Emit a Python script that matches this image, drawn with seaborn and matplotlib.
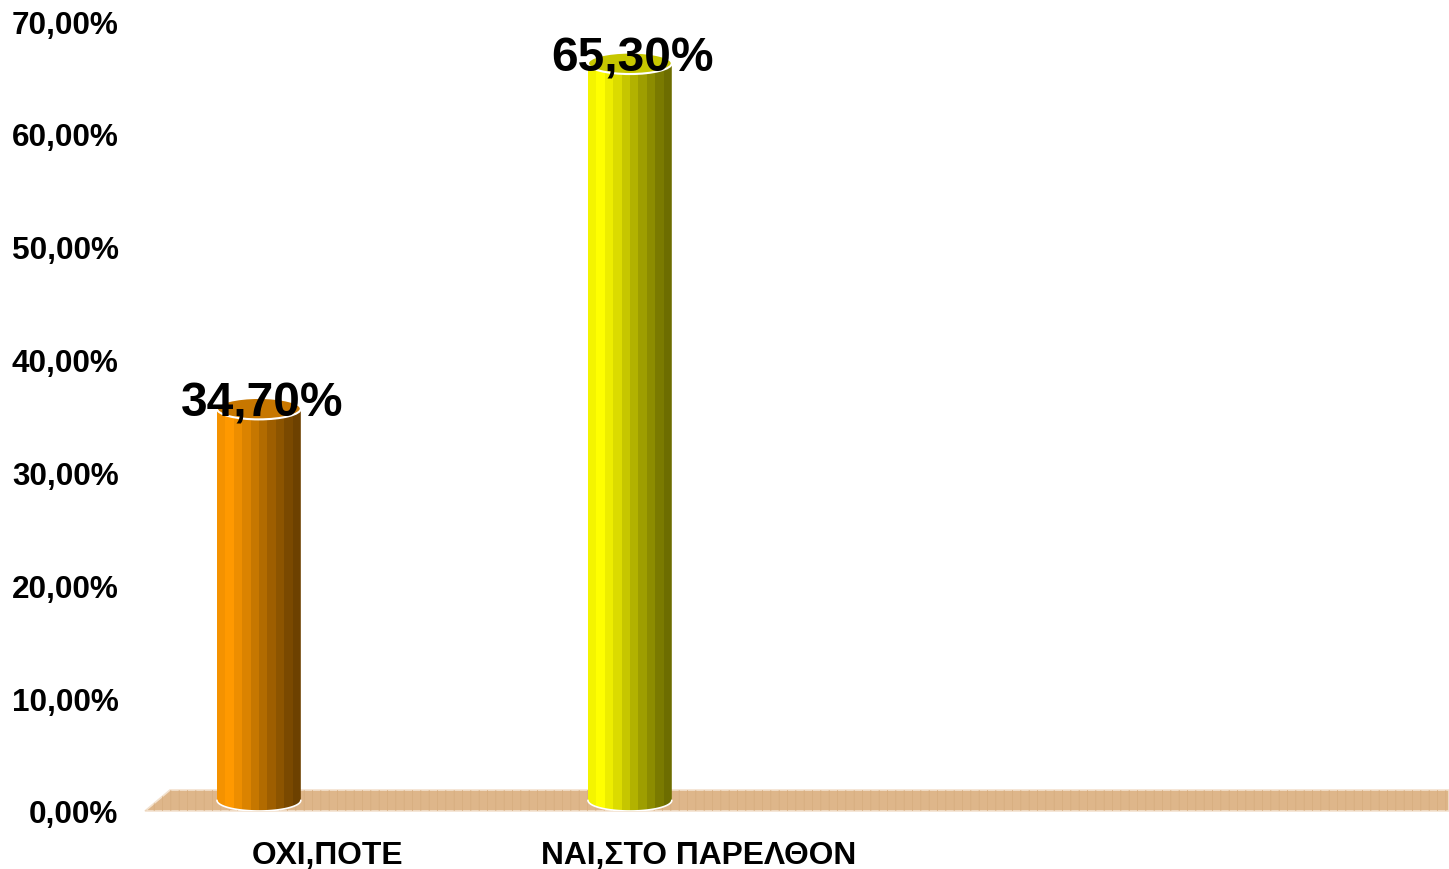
import numpy as np
import matplotlib
matplotlib.use("Agg")
import matplotlib.pyplot as plt
import matplotlib.colors as mcolors
import seaborn as sns
from matplotlib.patches import Ellipse, Polygon
from matplotlib.ticker import FuncFormatter

categories = ["ΟΧΙ,ΠΟΤΕ", "ΝΑΙ,ΣΤΟ ΠΑΡΕΛΘΟΝ"]
values = [34.70, 65.30]
value_labels = ["34,70%", "65,30%"]
bar_colors = ["#FF9900", "#FFFF00"]
y_ticks = [0, 10, 20, 30, 40, 50, 60, 70]

sns.set_theme(style="white")
plt.rcParams["font.family"] = ["Liberation Sans", "DejaVu Sans"]
plt.rcParams["hatch.linewidth"] = 0.5

fig = plt.figure(figsize=(14.49, 8.70), dpi=100)
ax = fig.add_axes([145 / 1449, 58 / 870, 1304 / 1449, 790 / 870])

sns.barplot(x=categories, y=values, hue=categories, palette=bar_colors,
            legend=False, width=0.226, saturation=1, ax=ax)

# 3d look: lift the cylinders a bit, shade them in facets
lift = 0.95
facets = np.array([0.96, 1.0, 0.93, 0.86, 0.78, 0.70, 0.62, 0.55, 0.48, 0.43])
bars = list(ax.patches)
for p, c, lab in zip(bars, bar_colors, value_labels):
    x0, w, h = p.get_x(), p.get_width(), p.get_height()
    p.set_visible(False)
    cx = x0 + w / 2
    base = np.array(mcolors.to_rgb(c))
    img = (base[None, :] * facets[:, None])[None, :, :]

    t = np.linspace(0, np.pi, 80)
    arc = np.column_stack([cx + w / 2 * np.cos(t), lift - lift * np.sin(t)])
    outline = np.vstack([[cx - w / 2, h + lift], [cx + w / 2, h + lift], arc])
    clip = Polygon(outline, closed=True, facecolor="none", edgecolor="none",
                   transform=ax.transData)
    ax.add_patch(clip)
    im = ax.imshow(img, extent=[cx - w / 2, cx + w / 2, 0, h + lift],
                   aspect="auto", interpolation="nearest", zorder=3)
    im.set_clip_path(clip)
    ax.plot(arc[:, 0], arc[:, 1], color="white", lw=1.2, zorder=4)
    ax.add_patch(Ellipse((cx, h + lift), w, 2 * lift, facecolor=base * 0.78,
                         edgecolor="white", lw=1.5, zorder=5))
    ax.text(cx + 0.008, h + 0.3, lab, ha="center", va="baseline", fontsize=34.5,
            fontweight="bold", color="black", zorder=6)

x_lo, x_hi = -0.307, 3.208
ax.set_xlim(x_lo, x_hi)
ax.set_ylim(0, 70)

# floor
floor = [(x_lo, 0), (x_hi, 0), (x_hi, 2 * lift), (x_lo + 25 / 371, 2 * lift)]
ax.add_patch(Polygon(floor, closed=True, facecolor="#DEB68A", edgecolor="#F3E2CF",
                     lw=1.2, zorder=1, clip_on=False))
ax.add_patch(Polygon(floor, closed=True, facecolor="none", edgecolor="#D6AC7E",
                     hatch="||", lw=0, zorder=1.5, clip_on=False))

ax.set_yticks(y_ticks)
ax.yaxis.set_major_formatter(FuncFormatter(lambda v, pos: f"{v:.2f}%".replace(".", ",")))
ax.set_xticks([i + 0.185 for i in range(len(categories))], categories)
ax.tick_params(axis="y", length=0, pad=19, labelsize=22.7)
ax.tick_params(axis="x", length=0, pad=21, labelsize=22.9)
for t in ax.get_xticklabels() + ax.get_yticklabels():
    t.set_fontweight("bold")
    t.set_color("black")
ax.set_xlabel("")
ax.set_ylabel("")
ax.grid(False)
sns.despine(ax=ax, left=True, bottom=True)

fig.savefig("out.png", dpi=100)
